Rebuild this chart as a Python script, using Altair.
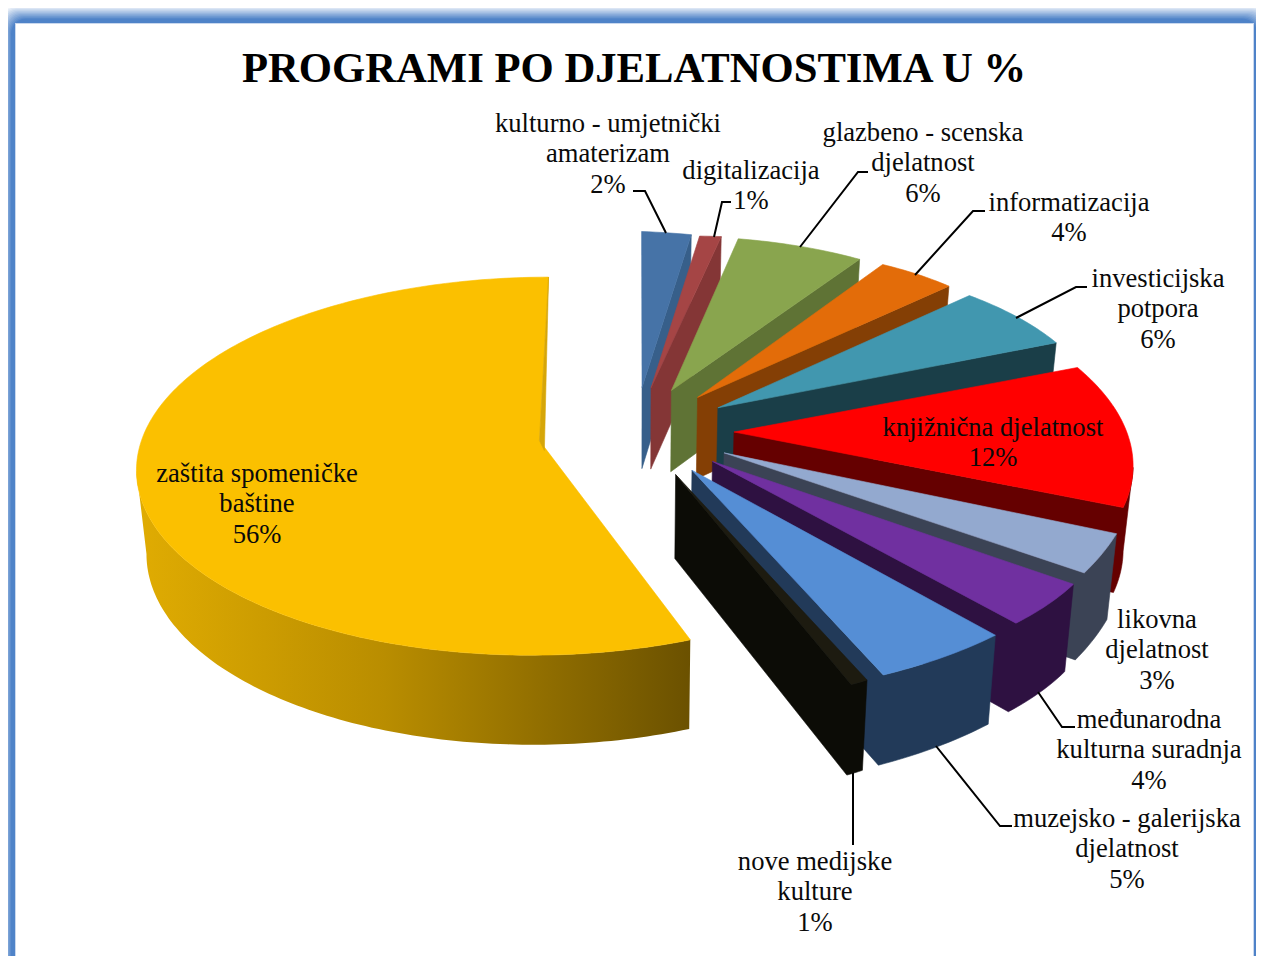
import math
import altair as alt

# ---- data ----
categories = ["kulturno - umjetnički\namaterizam", "digitalizacija", "glazbeno - scenska\ndjelatnost",
              "informatizacija", "investicijska\npotpora", "knjižnična djelatnost",
              "likovna\ndjelatnost", "međunarodna\nkulturna suradnja", "muzejsko - galerijska\ndjelatnost",
              "nove medijske\nkulture", "zaštita spomeničke\nbaštine"]
values = [2, 1, 6, 4, 6, 12, 3, 4, 5, 1, 56]
top_colors = ["#4673A7", "#A54545", "#89A54E", "#E36C09", "#4197AF", "#FF0000",
              "#93A9CF", "#7030A0", "#558ED5", "#1D1B10", "#FBC000"]
wall_colors = ["#375F8A", "#843636", "#5F7335", "#843F05", "#1A3E48", "#650000",
               "#3B4355", "#2E1141", "#223A59", "#0C0C06", "#D6A608"]
label_x = [608, 751, 923, 1069, 1158, 993, 1157, 1149, 1127, 815, 257]
label_y = [123.5, 170.5, 132.5, 202.5, 278.5, 427.5, 619.5, 719.5, 818.5, 861.5, 473.5]
title = "PROGRAMI PO DJELATNOSTIMA U %"

# ---- layout of the 3-D pie (page pixels) ----
CX, CY, R, B, P, EXPLODE, APEX_UP = 636, 444, 400, 186, 0.08, 0.245, 12
DEPTH_SCALE, DEPTH, DEPTH_PERSP = 0.98, 83, 0.031
rim_tweak = [(0, -2, 4, 0), (4, 1, 3, 0), (1, 0, -7, -1), (-9, -2, -18, -6), (-18, -6, -17, -12),
             (-15, -10, 3, -7), (3, -3, 0, 2), (0, 4, 4, 2), (4, 4, 0, 5), (1, 5, 10, 4), (-1, -1, 2, -2)]
leaders = [[(633, 191), (645, 191), (666, 233)], [(731, 202), (722, 202), (714, 237)],
           [(868, 172), (858, 172), (800, 247)], [(985, 211), (973, 211), (915, 275)],
           [(1087, 287), (1076, 287), (1016, 318)], [(1075, 727), (1062, 727), (1038, 692)],
           [(1012, 826), (1000, 826), (936, 746)], [(853, 845), (853, 773)]]
OFF = 8  # page margin


def project(X, Y):
    d = 1 + P * Y
    return CX + R * X / d, CY - B * Y / d


def bottom(pt):
    x, y = pt
    return CX + (x - CX) * DEPTH_SCALE, y + DEPTH + DEPTH_PERSP * (y - CY)


def feature(points, fill):
    ring = [[x - OFF, y - OFF] for x, y in points]
    ring.append(ring[0])
    return {"type": "Feature", "properties": {"fill": fill},
            "geometry": {"type": "Polygon", "coordinates": [ring]}}


def slice_geometry(i, start, end):
    mid = math.radians((start + end) / 2)
    ex, ey = EXPLODE * math.sin(mid), EXPLODE * math.cos(mid)
    ax, ay = project(ex, ey)
    apex = (ax, ay - APEX_UP)
    steps = max(2, int(round(end - start)))
    t = rim_tweak[i]
    rim = []
    for k in range(steps + 1):
        f = k / steps
        a = math.radians(start + (end - start) * f)
        x, y = project(ex + math.sin(a), ey + math.cos(a))
        rim.append((x + t[0] + (t[2] - t[0]) * f, y + t[1] + (t[3] - t[1]) * f))
    return apex, rim


features = []
gradient_wall = []
angle = 0.0
for i, v in enumerate(values):
    start, end = angle, angle + v * 3.6
    angle = end
    apex, rim = slice_geometry(i, start, end)
    if v < 50:
        # one wall polygon: radial edge, visible rim, silhouette, bottom rim, bottom apex
        m = max(range(len(rim)), key=lambda k: rim[k][0])
        visible = rim[m:]
        wall = [apex] + list(reversed(visible)) + [bottom(p) for p in visible] + [bottom(apex)]
        features.append(feature(wall, wall_colors[i]))
        features.append(feature([apex] + rim, top_colors[i]))
    else:
        m = min(range(len(rim)), key=lambda k: rim[k][0])
        front = rim[:m + 1]
        gradient_wall.append(feature(front + [bottom(p) for p in reversed(front)], wall_colors[i]))
        features.append(feature([apex] + rim, top_colors[i]))
        features.append(feature([rim[-1], apex, (apex[0] + 5, apex[1] + 10)], wall_colors[i]))

# frame: nested rounded rectangles fading into the blue band
frame_rows = []
FADE = 16
for k in range(FADE + 1):
    f = k / FADE
    e = min(1.0, f / 0.75)
    r, g, b = [round(255 + (c - 255) * e) for c in (0x4F, 0x83, 0xC8)]
    frame_rows.append({"x0": -1 + 16 * f - OFF, "x1": 1270 - 17 * f - OFF,
                       "y0": 5 + 18 * f - OFF, "y1": 1100, "c": f"#{r:02x}{g:02x}{b:02x}"})
inner_rows = [{"x0": 15 - OFF, "x1": 1254 - OFF, "y0": 23 - OFF, "y1": 1100, "c": "#C9D8EE"},
              {"x0": 16 - OFF, "x1": 1253 - OFF, "y0": 24 - OFF, "y1": 1100, "c": "#FFFFFF"}]

text_rows = []
for name, v, lx, ly in zip(categories, values, label_x, label_y):
    lines = name.split("\n") + [f"{v}%"]
    for j, line in enumerate(lines):
        text_rows.append({"t": line, "x": lx - OFF, "y": ly + j * 30.8 - OFF})

leader_rows = []
for n, path in enumerate(leaders):
    for o, (x, y) in enumerate(path):
        leader_rows.append({"id": n, "o": o, "x": x - OFF, "y": y - OFF})

X0 = alt.X("x:Q", scale=None, axis=None)
Y0 = alt.Y("y:Q", scale=None, axis=None)
PROJ = dict(type="identity", scale=1, translate=[0, 0])

frame = alt.Chart(alt.Data(values=frame_rows)).mark_rect(cornerRadius=15).encode(
    x=alt.X("x0:Q", scale=None, axis=None), x2="x1:Q",
    y=alt.Y("y0:Q", scale=None, axis=None), y2="y1:Q",
    fill=alt.Fill("c:N", scale=None), order=alt.Order("y0:Q"))
frame_inner = alt.Chart(alt.Data(values=inner_rows)).mark_rect().encode(
    x=alt.X("x0:Q", scale=None, axis=None), x2="x1:Q",
    y=alt.Y("y0:Q", scale=None, axis=None), y2="y1:Q",
    fill=alt.Fill("c:N", scale=None), order=alt.Order("y0:Q"))

wall_layer = alt.Chart(alt.Data(values=gradient_wall)).mark_geoshape(
    fill=alt.Gradient(gradient="linear", x1=0, x2=1, y1=0, y2=0,
                      stops=[alt.GradientStop(offset=0, color="#E0AC02"),
                             alt.GradientStop(offset=0.45, color="#B98D00"),
                             alt.GradientStop(offset=1, color="#6B5100")]),
    strokeWidth=0).project(**PROJ)
pie_layer = alt.Chart(alt.Data(values=features)).mark_geoshape(strokeWidth=0.6).encode(
    fill=alt.Fill("properties.fill:N", scale=None),
    stroke=alt.Stroke("properties.fill:N", scale=None)).project(**PROJ)
leader_layer = alt.Chart(alt.Data(values=leader_rows)).mark_line(color="#000000", strokeWidth=2).encode(
    x=X0, y=Y0, detail="id:N", order="o:Q")
text_layer = alt.Chart(alt.Data(values=text_rows)).mark_text(
    font="Liberation Serif", fontSize=26.6, color="#0A0A0A", align="center", baseline="middle").encode(
    x=X0, y=Y0, text="t:N")
title_layer = alt.Chart(alt.Data(values=[{"t": title, "x": 634 - OFF, "y": 69 - OFF}])).mark_text(
    font="Liberation Serif", fontSize=42.7, fontWeight="bold", color="#000000",
    align="center", baseline="middle").encode(x=X0, y=Y0, text="t:N")

chart = alt.layer(frame, frame_inner, wall_layer, pie_layer, leader_layer, text_layer, title_layer).properties(
    width=1248, height=948, padding=0, autosize=alt.AutoSizeParams(type="none"), background="#FFFFFF"
).configure_view(stroke=None)

chart.save("out.html", embed_options={"renderer": "svg", "actions": False})
